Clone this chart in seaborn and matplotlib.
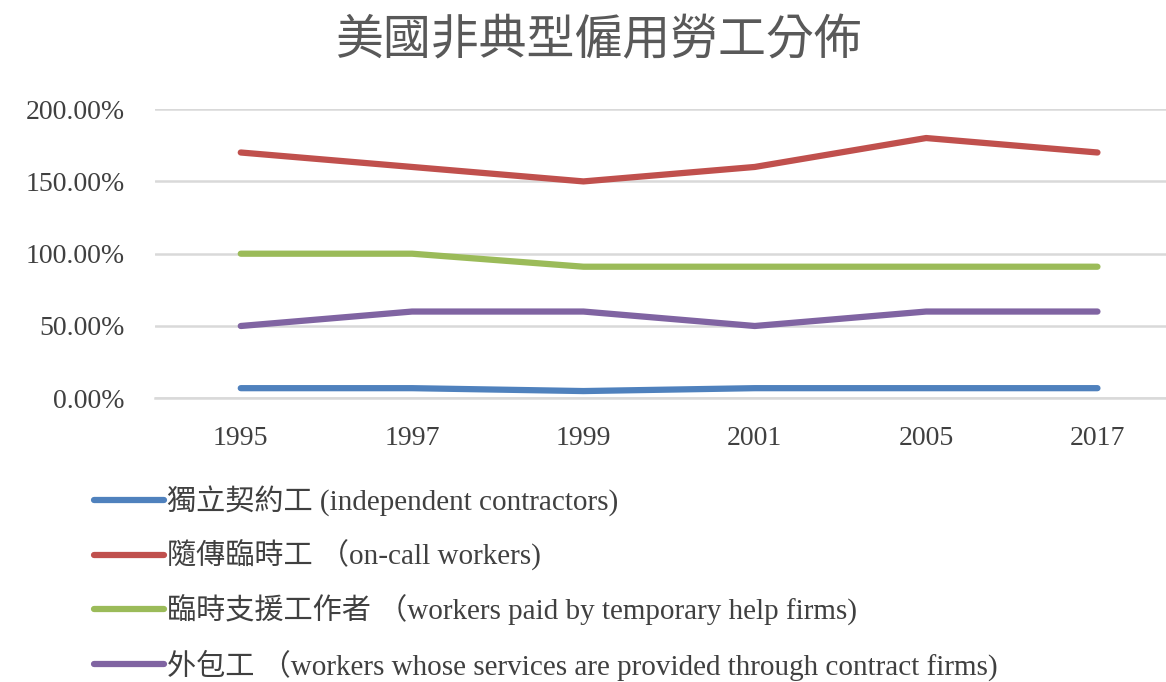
import numpy as np
import pandas as pd
import seaborn as sns
import matplotlib.pyplot as plt
from matplotlib.ticker import FuncFormatter

years = ['1995', '1997', '1999', '2001', '2005', '2017']
independent = [7, 7, 5, 7, 7, 7]
on_call = [170, 160, 150, 160, 180, 170]
temp_help = [100, 100, 91, 91, 91, 91]
contract = [50, 60, 60, 50, 60, 60]

labels = ['獨立契約工 (independent contractors)',
          '隨傳臨時工 （on-call workers)',
          '臨時支援工作者 （workers paid by temporary help firms)',
          '外包工 （workers whose services are provided through contract firms)']
colors = ['#4F81BD', '#C0504D', '#9BBB59', '#8064A2']

sns.set_style('white')
plt.rcParams['font.family'] = ['Liberation Serif', 'Noto Sans CJK TC', 'DejaVu Sans']

rows = []
for lab, vals in zip(labels, [independent, on_call, temp_help, contract]):
    for y, v in zip(years, vals):
        rows.append({'year': y, 'value': v, 'series': lab})
df = pd.DataFrame(rows)

fig = plt.figure(figsize=(11.66, 6.82), dpi=100)
ax = fig.add_axes([0.133, 0.416, 0.867, 0.424])
sns.lineplot(data=df, x='year', y='value', hue='series', palette=colors,
             linewidth=4.5, sort=False, ax=ax, legend=False)

ax.set_ylim(0, 200)
ax.set_xlim(-0.5, 5.4)
ax.set_yticks([0, 50, 100, 150, 200])
ax.yaxis.set_major_formatter(FuncFormatter(lambda v, p: f'{v:.2f}%'))
ax.grid(axis='y', color='#D9D9D9', linewidth=1.8)
ax.set_axisbelow(True)
for s in ['top', 'right', 'left']:
    ax.spines[s].set_visible(False)
ax.spines['bottom'].set_color('#D9D9D9')
ax.spines['bottom'].set_linewidth(1.8)
ax.tick_params(axis='both', length=0, labelsize=20, colors='#404040')
ax.tick_params(axis='y', pad=22)
ax.tick_params(axis='x', pad=20)
ax.set_xlabel('')
ax.set_ylabel('')

fig.text(0.513, 0.94, '美國非典型僱用勞工分佈', ha='center', va='center',
         fontsize=34.5, color='#595959', family=['Noto Sans CJK TC'], fontweight='light')

handles = [plt.Line2D([], [], color=c, linewidth=4.5) for c in colors]
fig.legend(handles, labels, loc='upper left', bbox_to_anchor=(0.071, 0.305),
           frameon=False, fontsize=21, handlelength=2.4, handletextpad=0.08,
           labelspacing=0.8, labelcolor='#404040', borderaxespad=0)

fig.savefig('out.png', dpi=100)
